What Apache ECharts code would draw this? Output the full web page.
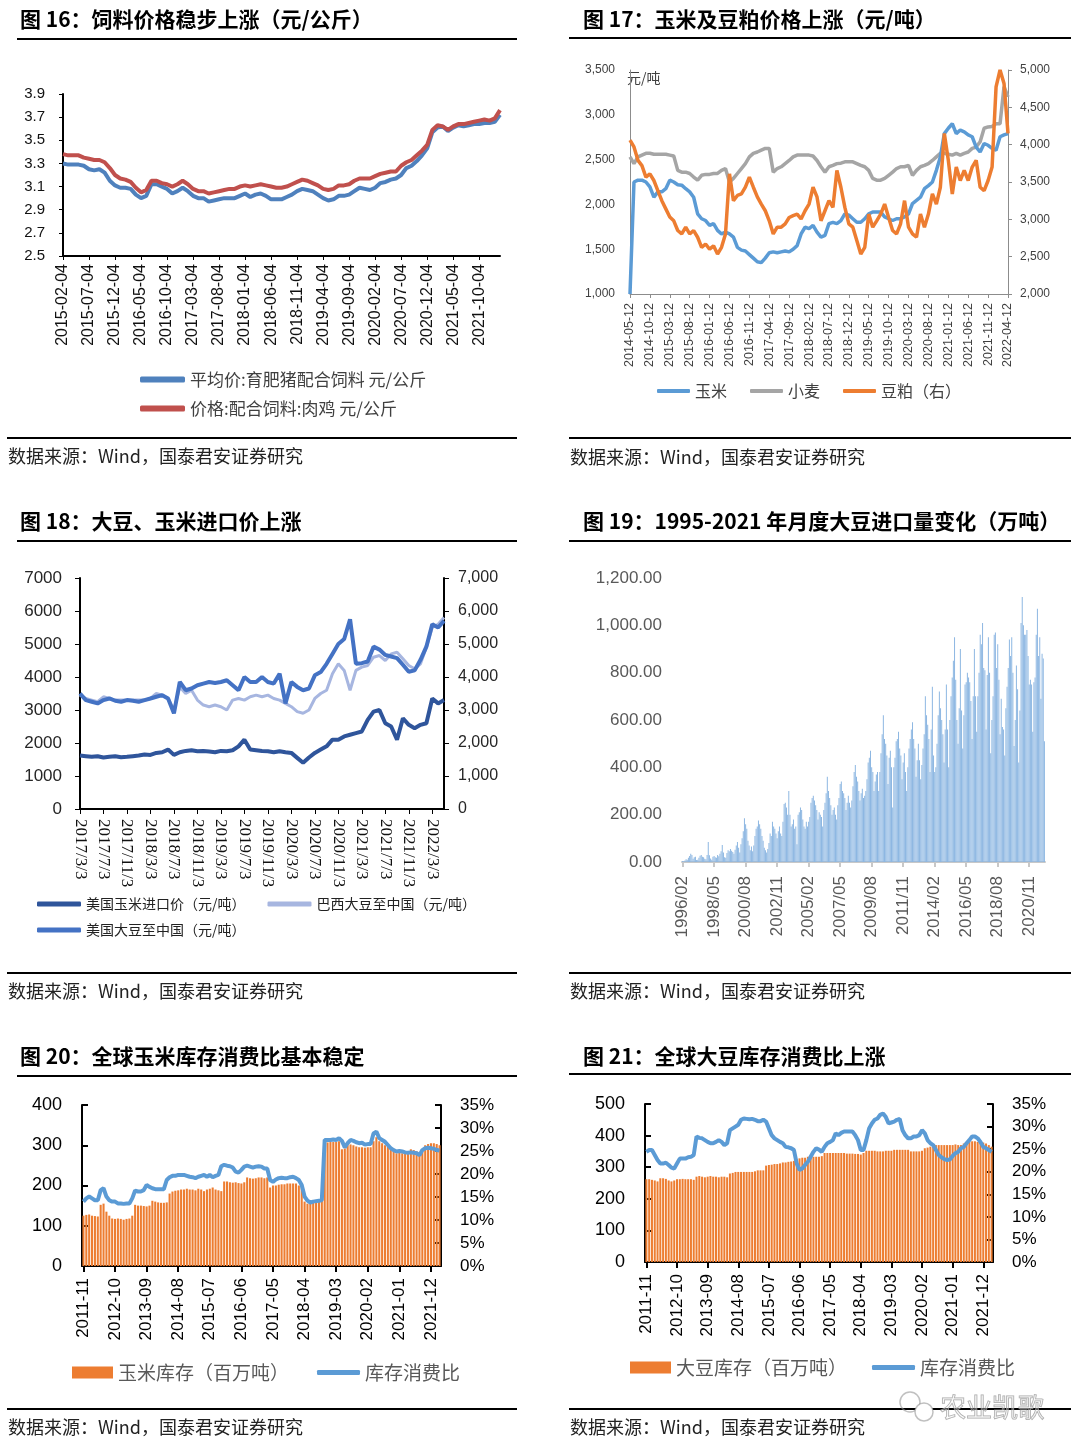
<!DOCTYPE html>
<html><head><meta charset="utf-8">
<script src="https://cdn.jsdelivr.net/npm/echarts/dist/echarts.min.js"></script>
<style>html,body{margin:0;padding:0;background:#fff}#c{width:1080px;height:1456px}</style>
</head><body><div id="c"></div><script>
// ---------- Panel 16 ----------
const feedPig = [3.30,3.29,3.29,3.29,3.28,3.25,3.24,3.25,3.22,3.15,3.11,3.09,3.09,3.08,3.03,3.00,3.02,3.12,3.12,3.10,3.08,3.04,3.06,3.09,3.06,3.02,3.00,3.00,2.97,2.98,2.99,3.00,3.00,3.00,3.02,3.04,3.01,3.03,3.04,3.02,2.99,2.99,2.99,3.01,3.03,3.06,3.08,3.07,3.06,3.03,3.00,2.98,2.99,3.02,3.02,3.03,3.06,3.09,3.08,3.07,3.09,3.13,3.14,3.16,3.17,3.20,3.26,3.28,3.32,3.37,3.43,3.57,3.61,3.62,3.58,3.61,3.63,3.62,3.63,3.64,3.64,3.65,3.65,3.66,3.72];
const feedBroiler = [3.38,3.37,3.37,3.37,3.35,3.34,3.33,3.33,3.31,3.26,3.20,3.17,3.16,3.14,3.09,3.05,3.07,3.15,3.15,3.13,3.12,3.10,3.12,3.15,3.12,3.08,3.06,3.06,3.04,3.05,3.06,3.07,3.08,3.08,3.10,3.11,3.10,3.11,3.12,3.11,3.10,3.09,3.09,3.10,3.12,3.14,3.16,3.15,3.13,3.11,3.08,3.07,3.08,3.11,3.11,3.12,3.15,3.17,3.17,3.17,3.19,3.21,3.22,3.23,3.23,3.28,3.31,3.33,3.37,3.41,3.46,3.59,3.63,3.62,3.59,3.62,3.64,3.64,3.65,3.66,3.67,3.68,3.67,3.69,3.76];
// ---------- Panel 17 ----------
const cornPrice = [1000,2250,2270,2270,2250,2195,2080,2140,2140,2175,2270,2250,2220,2215,2175,2140,2080,1895,1840,1820,1765,1785,1710,1670,1690,1670,1635,1520,1490,1480,1440,1400,1360,1350,1400,1460,1470,1460,1470,1480,1470,1500,1540,1670,1745,1730,1765,1690,1635,1655,1785,1800,1785,1820,1895,1880,1840,1800,1800,1840,1895,1915,1915,1915,1860,1840,1820,1840,1840,1860,1895,2010,2045,2080,2175,2210,2250,2380,2530,2790,2850,2900,2790,2830,2810,2775,2755,2640,2585,2680,2660,2625,2605,2755,2775,2790];
const wheatPrice = [2530,2455,2530,2550,2570,2570,2560,2560,2560,2560,2550,2540,2380,2360,2360,2345,2305,2270,2325,2335,2335,2345,2345,2380,2400,2250,2290,2345,2400,2455,2530,2570,2585,2605,2625,2625,2360,2400,2420,2455,2490,2530,2550,2550,2550,2550,2540,2490,2420,2360,2420,2435,2455,2460,2475,2475,2475,2455,2435,2420,2380,2290,2270,2270,2290,2325,2360,2400,2420,2420,2435,2325,2380,2420,2435,2455,2490,2530,2570,2570,2560,2550,2570,2550,2570,2585,2625,2640,2700,2850,2865,2870,2900,2900,3315,3200];
const mealPrice = [4060,3970,3790,3720,3565,3610,3520,3385,3250,3140,3030,2980,2850,2805,2895,2805,2850,2760,2625,2670,2600,2645,2535,2625,2805,3610,3250,3320,3340,3430,3565,3430,3300,3205,3115,2980,2805,2895,2895,2940,3025,3050,3070,3005,3115,3205,3430,3300,2980,3115,3250,3160,3655,3430,3160,2940,2895,2715,2535,2625,3070,2895,2980,3070,3205,3025,2850,2805,2940,3250,2895,2805,2760,3070,2895,3070,3340,3205,3430,4150,3790,3340,3700,3520,3655,3520,3700,3790,3430,3385,3520,3700,4775,5000,4820,4150];
// ---------- Panel 18 ----------
const usCornImport = [1620,1600,1580,1600,1560,1580,1600,1570,1580,1600,1620,1650,1640,1700,1720,1800,1640,1720,1760,1780,1750,1760,1740,1720,1760,1750,1780,1900,2100,1800,1780,1760,1750,1720,1750,1720,1700,1550,1400,1560,1700,1800,1900,2100,2100,2200,2250,2300,2350,2700,2950,3000,2600,2500,2100,2750,2550,2450,2550,2600,3350,3200,3300];
const brSoyImport = [3450,3350,3300,3250,3400,3350,3300,3300,3300,3300,3300,3300,3350,3500,3450,3350,3000,3700,3500,3600,3300,3150,3100,3150,3100,3000,3300,3350,3300,3400,3450,3400,3450,3350,3300,3200,3100,2950,2900,3000,3350,3500,3600,4100,4400,4200,3600,4200,4300,4350,4600,4650,4500,4700,4750,4550,4350,4250,4400,4900,5500,5600,5800];
const usSoyImport = [3500,3300,3250,3200,3300,3350,3280,3250,3300,3280,3250,3300,3350,3400,3450,3350,2900,3850,3600,3650,3750,3800,3850,3820,3850,3900,3750,3600,4000,3850,3850,4000,3850,3800,4100,3200,3850,3700,3600,3650,4050,4150,4400,4700,5000,5150,5750,4400,4420,4470,4920,4830,4670,4620,4570,4370,4160,4200,4520,4920,5600,5500,5700];
// ---------- Panel 19 (monthly soybean imports, 万吨) ----------
const imp1996 = [4,3,6,12,10,18,25,35,30,14,20];
const imp1997 = [22,8,10,18,26,30,22,20,14,12,30,85];
const imp1998 = [28,15,10,22,25,20,18,30,24,35,45,72];
const imp1999 = [40,20,18,38,50,45,55,48,42,35,52,70];
const imp2000 = [85,60,40,75,100,130,185,160,140,90,70,50];
const imp2001 = [65,45,70,110,140,150,175,160,140,110,90,60];
const imp2002 = [50,40,55,80,120,110,170,150,140,120,100,130];
const imp2003 = [150,120,110,170,245,250,230,200,300,200,150,160];
const imp2004 = [180,140,150,75,200,210,230,220,180,150,140,170];
const imp2005 = [150,170,190,250,270,280,260,240,220,180,210,200];
const imp2006 = [190,150,220,250,290,360,300,270,240,200,220,230];
const imp2007 = [200,180,240,270,330,340,300,290,270,220,250,280];
const imp2008 = [250,230,260,320,380,410,360,340,300,260,290,310];
const imp2009 = [270,280,300,350,420,440,470,400,380,300,340,370];
const imp2010 = [380,300,380,460,540,620,520,500,450,330,440,470];
const imp2011 = [400,230,400,440,510,520,550,480,450,350,420,460];
const imp2012 = [380,300,400,480,520,560,590,520,480,360,430,500];
const imp2013 = [430,350,410,480,540,700,620,580,520,380,560,740];
const imp2014 = [450,380,400,500,620,720,650,600,540,420,560,750];
const imp2015 = [560,400,600,700,780,850,950,770,600,500,650,900];
const imp2016 = [640,480,620,750,760,800,780,760,680,520,700,900];
const imp2017 = [700,550,700,800,960,920,1010,820,810,560,790,950];
const imp2018 = [800,460,600,700,960,970,820,920,770,540,690,570];
const imp2019 = [560,450,650,740,820,940,870,950,800,490,600,830];
const imp2020 = [730,420,640,1010,1120,1000,960,960,980,870,750,770];
const imp2021 = [750,550,760,780,960,1070,870,950,690,880,860,510];
// ---------- Panel 20 ----------
const cornStock = [125,127,128,125,124,123,152,155,135,125,118,117,118,117,115,117,118,125,152,150,150,149,148,150,162,160,158,157,157,158,180,185,187,188,190,190,192,190,190,188,192,190,186,190,192,195,190,188,186,210,210,208,207,208,206,205,208,220,218,217,218,220,220,218,220,195,200,200,202,203,203,205,205,205,205,200,198,160,155,155,157,158,160,162,305,307,308,308,308,310,290,292,300,302,300,297,295,295,294,295,295,310,320,310,305,300,298,290,285,280,282,280,283,285,290,288,285,280,290,300,303,305,305,303,300];
const cornRatio = [14.0,14.7,15.1,14.7,14.3,14.3,16.5,16.9,15.1,14.3,14.0,14.0,13.6,13.6,13.5,13.6,13.6,14.7,16.4,16.2,16.2,16.5,17.6,17.2,16.9,16.7,16.7,16.7,16.7,18.7,19.3,19.6,19.6,19.8,19.8,19.8,19.6,19.4,19.3,19.1,19.4,19.6,19.8,19.4,19.8,19.3,19.6,19.8,21.7,22.0,21.8,21.7,21.4,20.5,20.3,20.9,21.6,21.8,21.6,21.4,21.6,21.7,21.6,21.2,21.2,18.7,18.3,18.8,19.1,19.2,19.1,19.1,19.3,19.4,19.1,18.7,17.6,15.1,14.2,13.8,14.0,14.1,14.2,14.3,27.4,27.4,27.4,27.5,27.4,27.8,27.2,25.8,26.7,27.4,27.2,26.9,26.7,26.8,26.4,26.5,26.5,28.8,29.2,27.8,27.4,27.0,26.3,25.6,25.2,24.9,25.0,24.9,24.7,24.6,24.7,24.6,24.5,24.1,25.2,25.6,25.7,25.6,25.5,25.2,25.1];
// ---------- Panel 21 ----------
const soyStock = [262,262,260,258,255,265,265,263,258,255,258,262,262,263,262,262,262,260,270,272,270,268,270,272,270,270,268,270,270,268,280,282,285,285,285,285,285,285,285,287,290,290,290,305,307,308,310,310,312,315,315,317,318,320,325,328,330,330,333,333,333,333,333,335,345,345,345,345,345,345,345,345,343,343,343,342,342,340,345,352,352,352,352,350,350,350,352,352,352,355,355,355,355,355,355,350,350,350,350,352,360,362,365,368,370,370,370,370,370,370,370,372,370,370,375,380,380,382,382,380,380,378,375,370,365];
const soyRatio = [24.4,24.8,24.8,23.7,22.6,21.8,21.8,22.0,21.5,20.9,20.7,21.8,22.9,22.9,22.9,23.2,23.3,23.7,27.8,27.5,27.4,27.0,26.6,26.3,26.3,26.6,27.0,26.6,25.9,26.3,29.2,29.6,30.0,30.4,31.5,31.8,31.7,31.6,31.7,31.5,31.2,31.2,31.5,31.1,29.6,28.1,27.4,27.0,26.6,26.3,25.5,25.4,25.2,24.8,21.8,20.4,20.7,21.5,22.2,23.3,24.4,25.2,24.9,24.4,25.5,26.3,26.6,27.0,28.5,28.1,28.6,28.9,28.9,28.9,28.9,28.1,27.0,24.8,24.8,27.0,29.6,30.7,31.5,31.8,32.6,32.9,32.1,30.7,30.9,31.1,31.5,31.7,29.2,28.1,27.4,27.4,27.8,27.8,28.1,29.2,28.5,27.0,26.3,25.9,24.8,23.7,23.2,22.8,22.6,22.7,23.5,24.1,24.4,25.2,25.5,26.3,27.0,27.8,27.8,27.4,26.6,25.5,25.2,24.8,24.4];

// ---------- categories ----------
const pad = n => (n < 10 ? '0' : '') + n;
function monthSeq(y, m, n, fmt) {
  const out = [];
  for (let i = 0; i < n; i++) { const k = m - 1 + i; out.push(fmt(y + Math.floor(k / 12), k % 12 + 1)); }
  return out;
}
const cat16 = monthSeq(2015, 2, feedPig.length, (y, m) => `${y}-${pad(m)}-04`);
const cat17 = monthSeq(2014, 5, cornPrice.length, (y, m) => `${y}-${pad(m)}-12`);
const cat18 = monthSeq(2017, 3, usSoyImport.length, (y, m) => `${y}/${m}/3`);
const imports = [].concat(imp1996, imp1997, imp1998, imp1999, imp2000, imp2001, imp2002, imp2003, imp2004, imp2005, imp2006, imp2007, imp2008, imp2009, imp2010, imp2011, imp2012, imp2013, imp2014, imp2015, imp2016, imp2017, imp2018, imp2019, imp2020, imp2021);
const cat19 = monthSeq(1996, 2, imports.length, (y, m) => `${y}/${pad(m)}`);
const cat20 = monthSeq(2011, 11, cornStock.length, (y, m) => `${y}-${pad(m)}`);
const cat21 = monthSeq(2011, 11, soyStock.length, (y, m) => `${y}-${pad(m)}`);

const CJK = '"Noto Sans CJK SC", sans-serif';
const SANS = '"Liberation Sans", Arial, sans-serif';
const SERIF = '"Liberation Serif", "Times New Roman", serif';
const comma = v => Number(v).toLocaleString('en-US');
const plain = v => String(v);

function title(x, y, t) { return {type: 'text', x: x, y: y, style: {text: t, fontSize: 21, fontWeight: 'bold', fontFamily: CJK, fill: '#000', verticalAlign: 'middle'}}; }
function hline(x1, x2, y) { return {type: 'line', shape: {x1: x1, y1: y, x2: x2, y2: y}, style: {stroke: '#000', lineWidth: 2}}; }
function source(x, y) { return {type: 'text', x: x, y: y, style: {text: '数据来源：Wind，国泰君安证券研究', fontSize: 18, fontFamily: CJK, fill: '#222', verticalAlign: 'middle'}}; }

const blackAxis = {show: true, lineStyle: {color: '#000', width: 2}};
const noSplit = {show: false};

const option = {
  animation: false,
  backgroundColor: '#fff',
  grid: [
    {left: 63, top: 94, width: 437, height: 162},
    {left: 630, top: 70, width: 378, height: 224},
    {left: 80, top: 578, width: 364, height: 231},
    {left: 682, top: 578, width: 363, height: 284},
    {left: 82, top: 1105, width: 359, height: 161},
    {left: 645, top: 1104, width: 348, height: 158}
  ],
  xAxis: [
    {gridIndex: 0, type: 'category', data: cat16, boundaryGap: false, axisLine: blackAxis,
     axisTick: {show: true, interval: 4, length: 4, lineStyle: {color: '#000'}},
     axisLabel: {interval: 4, rotate: 90, fontSize: 16, fontFamily: SANS, color: '#111', margin: 8}, splitLine: noSplit},
    {gridIndex: 1, type: 'category', data: cat17, boundaryGap: false, axisLine: {show: true, lineStyle: {color: '#8c8c8c', width: 1}},
     axisTick: {show: true, interval: 4, length: 4, lineStyle: {color: '#8c8c8c'}},
     axisLabel: {interval: 4, rotate: 90, fontSize: 12.5, fontFamily: SANS, color: '#404040', margin: 9}, splitLine: noSplit},
    {gridIndex: 2, type: 'category', data: cat18, boundaryGap: false, axisLine: blackAxis,
     axisTick: {show: true, interval: 3, length: 5, lineStyle: {color: '#000'}},
     axisLabel: {interval: 3, rotate: -90, fontSize: 17, fontFamily: SERIF, color: '#111', margin: 10}, splitLine: noSplit},
    {gridIndex: 3, type: 'category', data: cat19, boundaryGap: true, axisLine: {show: true, lineStyle: {color: '#c8c8c8', width: 2}},
     axisTick: {show: true, interval: 26, alignWithLabel: true, length: 5, lineStyle: {color: '#c8c8c8', width: 2}},
     axisLabel: {interval: 26, rotate: 90, fontSize: 17, fontFamily: SANS, color: '#595959', margin: 14}, splitLine: noSplit},
    {gridIndex: 4, type: 'category', data: cat20, boundaryGap: true, axisLine: blackAxis,
     axisTick: {show: true, interval: 10, alignWithLabel: true, length: 6, lineStyle: {color: '#000', width: 2}},
     axisLabel: {interval: 10, rotate: 90, fontSize: 17, fontFamily: SANS, color: '#000', margin: 12}, splitLine: noSplit},
    {gridIndex: 5, type: 'category', data: cat21, boundaryGap: true, axisLine: blackAxis,
     axisTick: {show: true, interval: 10, alignWithLabel: true, length: 6, lineStyle: {color: '#000', width: 2}},
     axisLabel: {interval: 10, rotate: 90, fontSize: 17, fontFamily: SANS, color: '#000', margin: 12}, splitLine: noSplit}
  ],
  yAxis: [
    {gridIndex: 0, type: 'value', min: 2.5, max: 3.9, interval: 0.2, axisLine: blackAxis,
     axisTick: {show: true, length: 4, lineStyle: {color: '#000'}},
     axisLabel: {fontSize: 15, fontFamily: SANS, color: '#111', margin: 18, formatter: v => v.toFixed(1)}, splitLine: noSplit},
    {gridIndex: 1, type: 'value', min: 1000, max: 3500, interval: 500, axisLine: {show: true, lineStyle: {color: '#8c8c8c', width: 1}},
     axisTick: {show: false}, axisLabel: {fontSize: 12, fontFamily: SANS, color: '#404040', margin: 15, formatter: comma}, splitLine: noSplit},
    {gridIndex: 1, type: 'value', position: 'right', min: 2000, max: 5000, interval: 500, axisLine: {show: true, lineStyle: {color: '#8c8c8c', width: 1}},
     axisTick: {show: true, length: 4, lineStyle: {color: '#8c8c8c'}}, axisLabel: {fontSize: 12, fontFamily: SANS, color: '#404040', margin: 12, formatter: comma}, splitLine: noSplit},
    {gridIndex: 2, type: 'value', min: 0, max: 7000, interval: 1000, axisLine: blackAxis,
     axisTick: {show: true, length: 5, lineStyle: {color: '#000'}}, axisLabel: {fontSize: 17, fontFamily: SANS, color: '#262626', margin: 18, formatter: plain}, splitLine: noSplit},
    {gridIndex: 2, type: 'value', position: 'right', min: 0, max: 7000, interval: 1000, axisLine: blackAxis,
     axisTick: {show: true, length: 5, lineStyle: {color: '#000'}}, axisLabel: {fontSize: 16, fontFamily: SANS, color: '#262626', margin: 14, formatter: comma}, splitLine: noSplit},
    {gridIndex: 3, type: 'value', min: 0, max: 1200, interval: 200, axisLine: {show: false}, axisTick: {show: false},
     axisLabel: {fontSize: 17, fontFamily: SANS, color: '#595959', margin: 20, formatter: v => Number(v).toLocaleString('en-US', {minimumFractionDigits: 2, maximumFractionDigits: 2})}, splitLine: noSplit},
    {gridIndex: 4, type: 'value', min: 0, max: 400, interval: 100, axisLine: blackAxis,
     axisTick: {show: true, inside: true, length: 6, lineStyle: {color: '#000', width: 2}}, axisLabel: {fontSize: 18, fontFamily: SANS, color: '#000', margin: 20}, splitLine: noSplit},
    {gridIndex: 4, type: 'value', position: 'right', min: 0, max: 35, interval: 5, axisLine: blackAxis,
     axisTick: {show: true, inside: true, length: 6, lineStyle: {color: '#000', width: 2}}, axisLabel: {fontSize: 17, fontFamily: SANS, color: '#000', margin: 19, formatter: '{value}%'}, splitLine: noSplit},
    {gridIndex: 5, type: 'value', min: 0, max: 500, interval: 100, axisLine: blackAxis,
     axisTick: {show: true, inside: true, length: 6, lineStyle: {color: '#000', width: 2}}, axisLabel: {fontSize: 18, fontFamily: SANS, color: '#000', margin: 20}, splitLine: noSplit},
    {gridIndex: 5, type: 'value', position: 'right', min: 0, max: 35, interval: 5, axisLine: blackAxis,
     axisTick: {show: true, inside: true, length: 6, lineStyle: {color: '#000', width: 2}}, axisLabel: {fontSize: 17, fontFamily: SANS, color: '#000', margin: 19, formatter: '{value}%'}, splitLine: noSplit}
  ],
  legend: [
    {data: ['平均价:育肥猪配合饲料 元/公斤', '价格:配合饲料:肉鸡 元/公斤'], orient: 'vertical', left: 140, top: 371, padding: 0, itemWidth: 45, itemHeight: 6, itemGap: 12, icon: 'roundRect',
     textStyle: {fontSize: 17, fontFamily: CJK, color: '#404040'}},
    {data: ['玉米', '小麦', '豆粕（右）'], orient: 'horizontal', left: 657, top: 383, padding: 0, itemWidth: 33, itemHeight: 4, itemGap: 23, icon: 'roundRect',
     textStyle: {fontSize: 16, fontFamily: CJK, color: '#404040'}},
    {data: ['美国玉米进口价（元/吨）', '巴西大豆至中国（元/吨）'], orient: 'horizontal', left: 37, top: 897, padding: 0, itemWidth: 44, itemHeight: 5, itemGap: 22, icon: 'roundRect',
     textStyle: {fontSize: 14, fontFamily: CJK, color: '#222'}},
    {data: ['美国大豆至中国（元/吨）'], orient: 'horizontal', left: 37, top: 923, padding: 0, itemWidth: 44, itemHeight: 5, icon: 'roundRect',
     textStyle: {fontSize: 14, fontFamily: CJK, color: '#222'}},
    {data: ['玉米库存（百万吨）'], left: 72, top: 1363, padding: 0, itemWidth: 41, itemHeight: 12, icon: 'rect',
     textStyle: {fontSize: 19, fontFamily: CJK, color: '#595959'}},
    {data: ['库存消费比'], left: 317, top: 1363, padding: 0, itemWidth: 43, itemHeight: 5, icon: 'roundRect',
     textStyle: {fontSize: 19, fontFamily: CJK, color: '#595959'}},
    {data: ['大豆库存（百万吨）'], left: 630, top: 1358, padding: 0, itemWidth: 41, itemHeight: 12, icon: 'rect',
     textStyle: {fontSize: 19, fontFamily: CJK, color: '#595959'}},
    {data: ['库存消费比 '], left: 872, top: 1358, padding: 0, itemWidth: 43, itemHeight: 5, icon: 'roundRect',
     textStyle: {fontSize: 19, fontFamily: CJK, color: '#595959'}}
  ],
  series: [
    {name: '平均价:育肥猪配合饲料 元/公斤', type: 'line', xAxisIndex: 0, yAxisIndex: 0, data: feedPig, symbol: 'none', color: '#4F81BD', lineStyle: {width: 4, color: '#4F81BD'}},
    {name: '价格:配合饲料:肉鸡 元/公斤', type: 'line', xAxisIndex: 0, yAxisIndex: 0, data: feedBroiler, symbol: 'none', color: '#C0504D', lineStyle: {width: 4, color: '#C0504D'}},
    {name: '小麦', type: 'line', xAxisIndex: 1, yAxisIndex: 1, data: wheatPrice, symbol: 'none', color: '#A5A5A5', lineStyle: {width: 3.5, color: '#A5A5A5'}},
    {name: '玉米', type: 'line', xAxisIndex: 1, yAxisIndex: 1, data: cornPrice, symbol: 'none', color: '#5B9BD5', lineStyle: {width: 3.5, color: '#5B9BD5'}},
    {name: '豆粕（右）', type: 'line', xAxisIndex: 1, yAxisIndex: 2, data: mealPrice, symbol: 'none', color: '#ED7D31', lineStyle: {width: 3.5, color: '#ED7D31'}},
    {name: '美国玉米进口价（元/吨）', type: 'line', xAxisIndex: 2, yAxisIndex: 3, data: usCornImport, symbol: 'none', color: '#2F559B', lineStyle: {width: 4, color: '#2F559B'}},
    {name: '巴西大豆至中国（元/吨）', type: 'line', xAxisIndex: 2, yAxisIndex: 3, data: brSoyImport, symbol: 'none', color: '#A7B6E0', lineStyle: {width: 3, color: '#A7B6E0'}},
    {name: '美国大豆至中国（元/吨）', type: 'line', xAxisIndex: 2, yAxisIndex: 3, data: usSoyImport, symbol: 'none', color: '#4472C4', lineStyle: {width: 4, color: '#4472C4'}},
    {name: '大豆进口量', type: 'bar', xAxisIndex: 3, yAxisIndex: 5, data: imports, barCategoryGap: '15%', itemStyle: {color: '#8DB7E2'}},
    {name: '玉米库存（百万吨）', type: 'bar', xAxisIndex: 4, yAxisIndex: 6, data: cornStock, barCategoryGap: '28%', color: '#ED7D31', itemStyle: {color: '#ED7D31'}},
    {name: '库存消费比', type: 'line', xAxisIndex: 4, yAxisIndex: 7, data: cornRatio, symbol: 'none', color: '#5B9BD5', lineStyle: {width: 4, color: '#5B9BD5'}},
    {name: '大豆库存（百万吨）', type: 'bar', xAxisIndex: 5, yAxisIndex: 8, data: soyStock, barCategoryGap: '28%', color: '#ED7D31', itemStyle: {color: '#ED7D31'}},
    {name: '库存消费比 ', type: 'line', xAxisIndex: 5, yAxisIndex: 9, data: soyRatio, symbol: 'none', color: '#5B9BD5', lineStyle: {width: 4, color: '#5B9BD5'}}
  ],
  graphic: [
    title(20, 19, '图 16：饲料价格稳步上涨（元/公斤）'),
    title(583, 19, '图 17：玉米及豆粕价格上涨（元/吨）'),
    title(20, 521, '图 18：大豆、玉米进口价上涨'),
    title(583, 521, '图 19：1995-2021 年月度大豆进口量变化（万吨）'),
    title(20, 1056, '图 20：全球玉米库存消费比基本稳定'),
    title(583, 1056, '图 21：全球大豆库存消费比上涨'),
    hline(17, 517, 39), hline(569, 1071, 38),
    hline(17, 517, 541), hline(569, 1071, 541),
    hline(17, 517, 1076), hline(569, 1071, 1074),
    hline(7, 517, 438), hline(569, 1071, 438),
    hline(7, 517, 973), hline(569, 1071, 973),
    hline(7, 517, 1409), hline(569, 1071, 1409),
    source(8, 456), source(570, 457),
    source(8, 991), source(570, 991),
    source(8, 1427), source(570, 1427),
    {type: 'text', x: 627, y: 78, style: {text: '元/吨', fontSize: 14, fontFamily: CJK, fill: '#404040', verticalAlign: 'middle'}},
    {type: 'circle', shape: {cx: 910, cy: 1402, r: 10}, style: {fill: 'none', stroke: 'rgba(150,150,150,0.6)', lineWidth: 1.5}},
    {type: 'circle', shape: {cx: 924, cy: 1412, r: 9}, style: {fill: '#fff', stroke: 'rgba(150,150,150,0.6)', lineWidth: 1.5}},
    {type: 'text', x: 940, y: 1407, style: {text: '农业凯歌', fontSize: 26, fontFamily: CJK, fill: 'rgba(255,255,255,0.3)', stroke: 'rgba(140,140,140,0.75)', lineWidth: 1, verticalAlign: 'middle'}}
  ]
};
const chart = echarts.init(document.getElementById('c'), null, {renderer: 'canvas'});
chart.setOption(option);
</script></body></html>
